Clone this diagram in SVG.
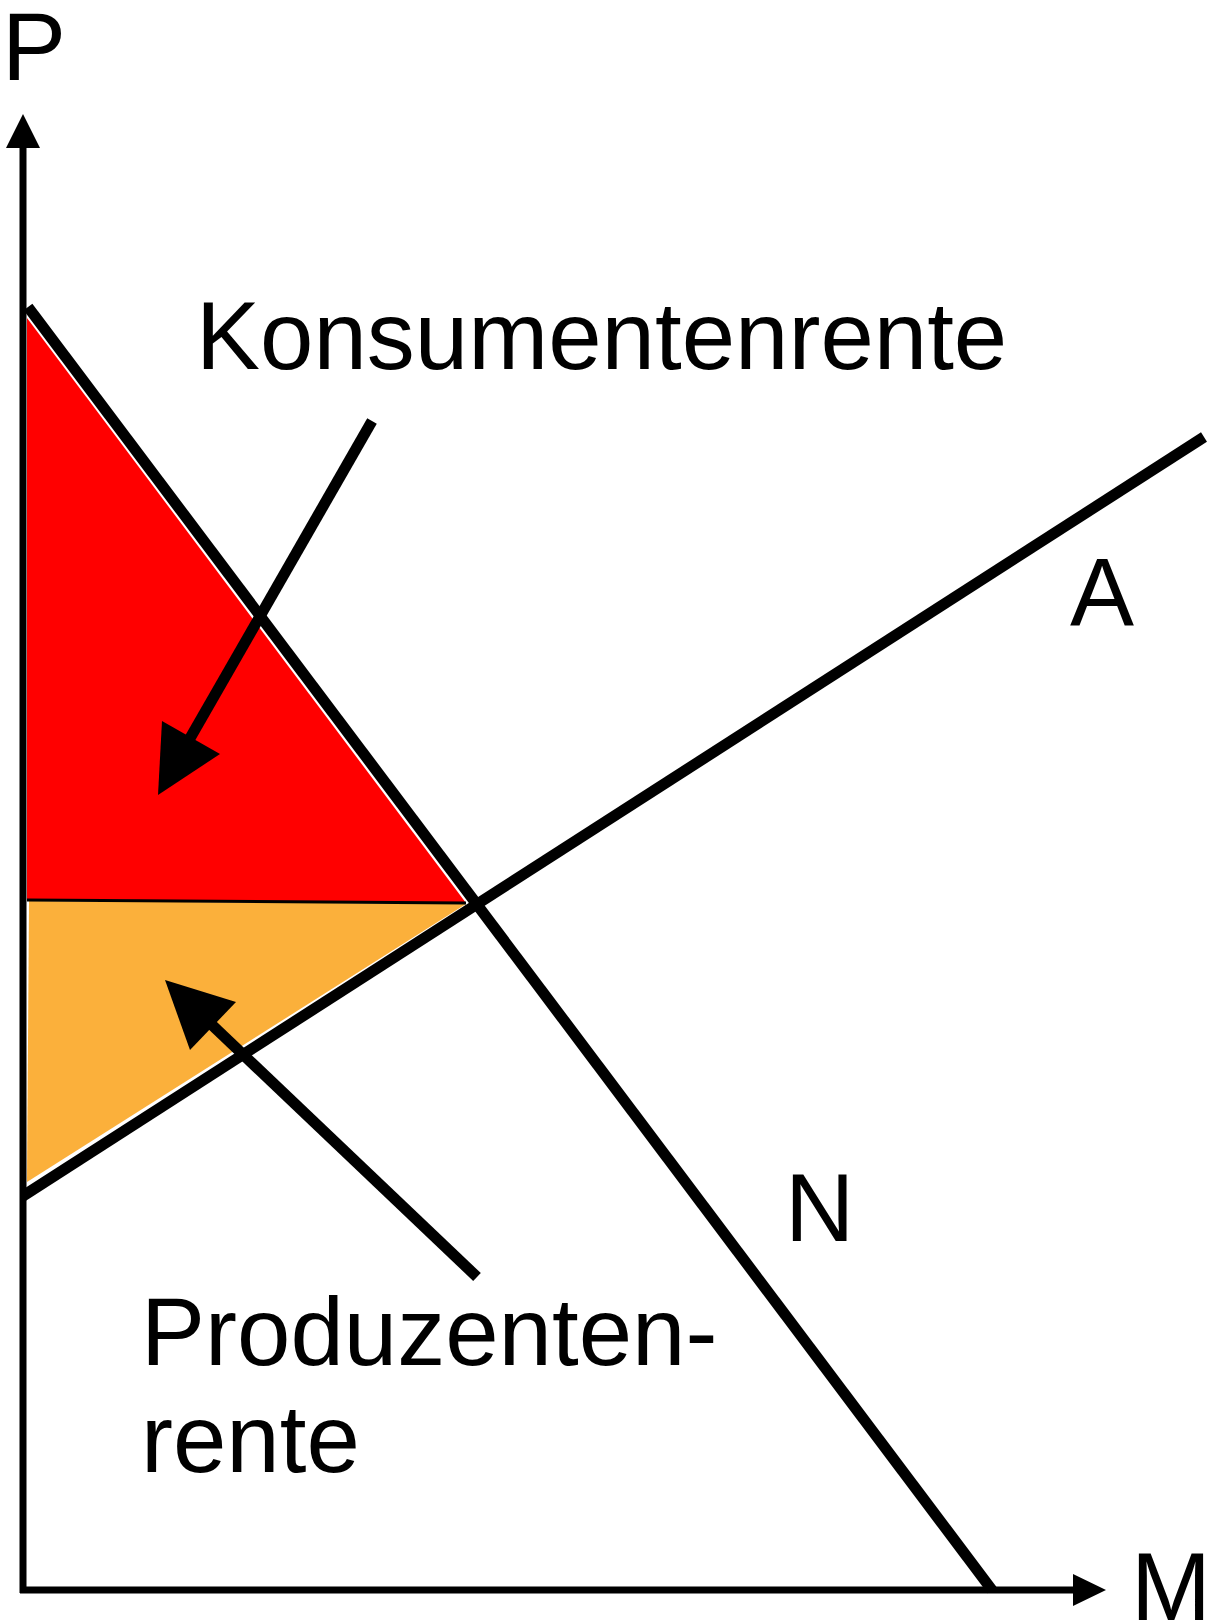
<svg xmlns="http://www.w3.org/2000/svg" width="1222" height="1621" viewBox="0 0 1222 1621">
<style>
.t{font-family:"Liberation Sans",Arial,sans-serif;font-size:96px;fill:#000}
.ln{stroke:#000;fill:none;stroke-linecap:butt}
.head{fill:#000}
</style>
<rect width="1222" height="1621" fill="#fff"/>
<g id="areas">
<polygon id="konsumentenrente-area" points="27,318 27,899 466,903" fill="#FF0000"/>
<polygon id="produzentenrente-area" points="29,901 466,904 27,1182" fill="#FBB03B"/>
<line x1="27" y1="900" x2="466" y2="903" stroke="#000" stroke-width="3"/>
</g>
<g id="axes">
<line class="ln" x1="23" y1="146" x2="23" y2="1593" stroke-width="7"/>
<polygon class="head" points="23,114 6,148 40,148"/>
<line class="ln" x1="20" y1="1590" x2="1075" y2="1590" stroke-width="7"/>
<polygon class="head" points="1106,1590 1073,1574 1073,1606"/>
</g>
<g id="curves">
<line id="N-line" class="ln" x1="28" y1="307" x2="992" y2="1590" stroke-width="11"/>
<line id="A-line" class="ln" x1="23" y1="1196" x2="1204" y2="437" stroke-width="11"/>
</g>
<g id="connectors">
<line class="ln" x1="372" y1="421" x2="189" y2="740" stroke-width="11"/>
<polygon class="head" points="162,721 220,754 158,795"/>
<line class="ln" x1="477" y1="1277" x2="211" y2="1024" stroke-width="11"/>
<polygon class="head" points="165,980 236,1002 190,1050"/>
</g>
<g id="labels">
<text class="t" x="2" y="80">P</text>
<text class="t" x="1131" y="1620">M</text>
<text class="t" x="1070" y="625">A</text>
<text class="t" x="785" y="1241">N</text>
<text class="t" x="196" y="369">Konsumentenrente</text>
<text class="t" x="141" y="1365">Produzenten-</text>
<text class="t" x="141" y="1472">rente</text>
</g>
</svg>
